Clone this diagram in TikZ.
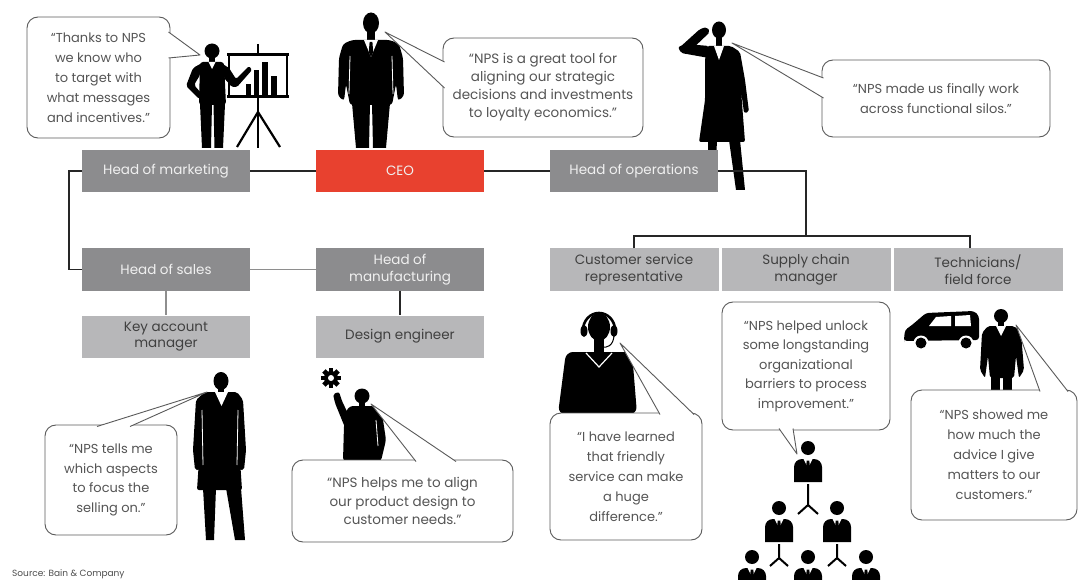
\documentclass[tikz,border=0pt]{standalone}
\usepackage{fontspec}
\setmainfont{Poppins}
\usetikzlibrary{calc}

\definecolor{boxdark}{HTML}{8C8C8E}
\definecolor{boxlight}{HTML}{B7B7B9}
\definecolor{ceored}{HTML}{E8412F}
\definecolor{inkgray}{HTML}{555555}
\definecolor{rulegray}{HTML}{5A5A5A}
\definecolor{linkgray}{HTML}{8E8E8E}

\tikzset{
  rolebox/.style={minimum width=168pt, minimum height=42pt, inner sep=0pt,
    align=center, font=\fontsize{13.5}{16.5}\selectfont},
  darkrole/.style={rolebox, fill=boxdark, text=white!94!black},
  lightrole/.style={rolebox, fill=boxlight, text=black!75},
  chiefrole/.style={rolebox, fill=ceored, text=white!94!black},
  link/.style={draw=black!85, line width=1.4pt},
  softlink/.style={draw=linkgray, line width=1.8pt},
  bubble/.style={draw=rulegray, line width=0.9pt, rounded corners=11pt,
    fill=white, align=center, text=inkgray, inner sep=0pt},
  tailline/.style={draw=rulegray, line width=0.9pt, line join=round},
  sil/.style={fill=black},
  orgperson/.pic={
    \fill (0,0) circle[radius=7pt];
    \fill (-14,34) -- (-14,19) to[out=90,in=180] (-6,11) -- (6,11)
          to[out=0,in=90] (14,19) -- (14,34) -- cycle;
    \fill[white] (-4.5,11) -- (4.5,11) -- (0,20) -- cycle;
    \fill (-1.3,12.5) -- (1.3,12.5) -- (1.9,19) -- (0,22) -- (-1.9,19) -- cycle;
  },
}

\begin{document}
\begin{tikzpicture}[x=1pt,y=-1pt]
\useasboundingbox (0,0) rectangle (1079,580);

% ---------- silhouettes ----------
% presenter next to an easel
\fill[sil] (212,51) circle[radius=7.5pt];
\fill[sil] (209,57) rectangle (215,64);
\fill[sil, rounded corners=3pt] (200,62) -- (224,62) -- (226,105) -- (199,105) -- cycle;
\fill[sil, rounded corners=2pt] (202,63) -- (193,68) -- (186,86) -- (199,99) -- (202,94) -- (194,85) -- (200,75) -- cycle;
\fill[sil, rounded corners=1.5pt] (221,63) -- (229,68) -- (236,79) -- (249,66) -- (252,70) -- (237,87) -- (232,87) -- (224,78) -- cycle;
\fill[white] (208.5,62) -- (215.5,62) -- (212,69) -- cycle;
\fill[sil] (200,104) -- (212,104) -- (211,148) -- (202,148) -- cycle;
\fill[sil] (213.5,104) -- (225,104) -- (223,148) -- (214.5,148) -- cycle;
\draw[line width=2pt] (258,44) -- (258,55);
\draw[line width=1.5pt] (229,55) rectangle (287,96);
\draw[line width=3pt] (227,54.5) -- (289,54.5);
\draw[line width=3pt] (227,96.5) -- (289,96.5);
\fill[sil] (246,84) rectangle (251,96);
\fill[sil] (254,70) rectangle (259,96);
\fill[sil] (262,62) rectangle (268,96);
\fill[sil] (271,76) rectangle (277,96);
\draw[line width=2.2pt] (258,97) -- (258,148);
\draw[line width=2.2pt] (258,112) -- (237,147);
\draw[line width=2.2pt] (258,112) -- (280,147);

% chief executive in a suit
\fill[sil] (371,23) ellipse[x radius=8pt, y radius=10.5pt];
\fill[sil] (367,30) rectangle (375,41);
\fill[sil, rounded corners=3pt] (352,40) -- (390,40) -- (399,44) -- (403,58) -- (404,96) -- (398,101) -- (396,84) -- (392,105) -- (350,105) -- (346,84) -- (344,101) -- (338,96) -- (339,58) -- (343,44) -- cycle;
\draw[white, line width=0.8pt] (350,56) -- (349,94);
\draw[white, line width=0.8pt] (392,56) -- (393,94);
\fill[white] (364,40) -- (378,40) -- (371,57) -- cycle;
\fill[sil] (369.6,42) -- (372.4,42) -- (373.2,52) -- (371,57) -- (368.8,52) -- cycle;
\fill[sil] (352,103) -- (370,103) -- (369,148) -- (356,148) -- cycle;
\fill[sil] (372,103) -- (390,103) -- (386,148) -- (373,148) -- cycle;

% woman on the phone
\fill[sil] (719,30) ellipse[x radius=7pt, y radius=8.5pt];
\fill[sil] (716,36) rectangle (722,47);
\fill[sil, rounded corners=2pt] (709,46) -- (686,44) -- (678,47) -- (681,53) -- (709,58) -- cycle;
\fill[sil, rounded corners=2pt] (679,48) -- (700,29) -- (707,27) -- (710,32) -- (688,53) -- cycle;
\fill[sil, rounded corners=2pt] (707,46) -- (731,46) -- (740,52) -- (745,80) -- (749,112) -- (744,113) -- (741,90) -- (745,142) -- (699,142) -- (705,100) -- (705,60) -- cycle;
\fill[white] (714,46) -- (724,46) -- (719,60) -- cycle;
\fill[sil] (708,140) -- (717,140) -- (715,185) -- (709,185) -- cycle;
\fill[sil] (729,140) -- (740,140) -- (745,190) -- (736,190) -- cycle;

% key account manager
\fill[sil] (221,381) ellipse[x radius=7.5pt, y radius=9pt];
\fill[sil] (218,387) rectangle (224,394);
\fill[sil, rounded corners=2pt] (205,392) -- (237,392) -- (243,400) -- (246,450) -- (244,470) -- (240,470) -- (239,445) -- (242,490) -- (197,490) -- (200,445) -- (199,470) -- (195,470) -- (193,450) -- (196,400) -- cycle;
\draw[white, line width=0.8pt] (202,410) -- (203,465);
\draw[white, line width=0.8pt] (238,410) -- (237,465);
\fill[white] (215,392) -- (228,392) -- (221.5,406) -- cycle;
\fill[sil] (203,488) -- (216,488) -- (214,540) -- (206,540) -- cycle;
\fill[sil] (226,488) -- (241,488) -- (245,540) -- (235,540) -- cycle;

% design engineer with a cog
\fill[sil] (331,378) circle[radius=7pt];
\foreach \a in {0,45,...,315}
  \fill[sil, shift={(331,378)}, rotate=\a] (-2.4pt,0pt) rectangle (2.4pt,10pt);
\fill[white] (331,378) circle[radius=3pt];
\fill[sil] (362,396) circle[radius=7.5pt];
\fill[sil] (359,402) rectangle (365,408);
\fill[sil, rounded corners=2pt] (346,430) -- (335,403) -- (333,394) -- (339,392) -- (342,401) -- (352,422) -- cycle;
\fill[sil, rounded corners=3pt] (350,406) -- (374,406) -- (382,413) -- (386,440) -- (381,461) -- (343,461) -- (344,425) -- (346,411) -- cycle;
\draw[white, line width=0.8pt] (376,420) -- (378,446);

% customer service agent with a headset
\fill[sil] (599,327) ellipse[x radius=11pt, y radius=14pt];
\draw[line width=2.6pt] (583,330) arc[start angle=180, end angle=0, x radius=16pt, y radius=17pt];
\fill[sil] (584,331) ellipse[x radius=3.5pt, y radius=6pt];
\fill[sil] (614,331) ellipse[x radius=3.5pt, y radius=6pt];
\draw[line width=1pt] (614,336) .. controls (613,346) and (607,348) .. (602,347);
\fill[sil] (594,339) rectangle (604,353);
\fill[sil, rounded corners=7pt] (566,352) -- (632,352) -- (637,414) -- (558,414) -- cycle;
\draw[white, line width=1.2pt] (586,353) -- (599,367) -- (612,353);

% organisation pyramid
\pic at (808,448) {orgperson};
\pic at (779,508) {orgperson};
\pic at (837,508) {orgperson};
\pic at (752,557) {orgperson};
\pic at (808,557) {orgperson};
\pic at (866,557) {orgperson};
\draw[line width=2pt] (808,484) -- (808,505) -- (798,514);
\draw[line width=2pt] (808,505) -- (818,514);
\draw[line width=2pt] (779,544) -- (779,558) -- (770,566);
\draw[line width=2pt] (779,558) -- (788,566);
\draw[line width=2pt] (837,544) -- (837,558) -- (828,566);
\draw[line width=2pt] (837,558) -- (846,566);

% technician and van
\fill[sil, rounded corners=3pt] (904,339) -- (905,330) -- (912,325) -- (926,313) -- (974,311) -- (979,316) -- (979,340) -- (904,341) -- cycle;
\fill[white] (929,326) -- (936,317) -- (951,316) -- (951,326) -- cycle;
\fill[white] (955,316) -- (970,315) -- (971,326) -- (955,326) -- cycle;
\fill[white] (921,343) circle[radius=7.5pt];
\fill[sil] (921,343) circle[radius=5.5pt];
\fill[white] (966,343) circle[radius=7.5pt];
\fill[sil] (966,343) circle[radius=5.5pt];
\fill[sil] (1001,316) circle[radius=7pt];
\fill[sil] (998,321) rectangle (1004,327);
\fill[sil, rounded corners=2pt] (988,326) -- (1014,326) -- (1021,333) -- (1024,370) -- (1019,378) -- (1016,356) -- (1014,378) -- (990,378) -- (988,356) -- (985,378) -- (980,370) -- (982,333) -- cycle;
\fill[white] (996,326) -- (1006,326) -- (1001,336) -- cycle;
\fill[sil] (991,376) rectangle (1000,391);
\fill[sil] (1003,376) rectangle (1012,391);

% ---------- reporting lines ----------
\coordinate (lft) at (69,171);
\coordinate (jn) at (806,236);
\coordinate (rt) at (970,236);

\node[darkrole]  (hm)  at (166,171)   {Head of marketing};
\node[chiefrole] (ceo) at (400,171)   {CEO};
\node[darkrole]  (ho)  at (634,171)   {Head of operations};
\node[darkrole]  (hs)  at (166,269.5) {Head of sales};
\node[darkrole]  (hmf) at (400,269.5) {Head of\\manufacturing};
\node[lightrole] (kam) at (166,336.5) {Key account\\manager};
\node[lightrole] (de)  at (400,336.5) {Design engineer};
\node[lightrole, minimum width=169pt] (csr) at (634,269.5) {Customer service\\representative};
\node[lightrole, minimum width=169pt] (scm) at (806,269.5) {Supply chain\\manager};
\node[lightrole, minimum width=169pt] (tec) at (978,269.5) {Technicians/\\field force};

\draw[link] (hm.east) -- (ceo.west);
\draw[link] (ceo.east) -- (ho.west);
\draw[link] (hm.west) -- (lft) |- (hs.west);
\draw[softlink] (hs.east) -- (hmf.west);
\draw[softlink] (hs.south) -- (kam.north);
\draw[link] (hmf.south) -- (de.north);
\draw[link] (ho.east) -| (jn);
\draw[link] (csr.north) |- (jn) -- (rt) -- (rt |- tec.north);

% ---------- quotes ----------
\node[bubble, minimum width=143pt, minimum height=121pt, font=\fontsize{13}{20}\selectfont] (q1) at (98.5,77.5)
  {“Thanks to NPS\\we know who\\to target with\\what messages\\and incentives.”};
\node[bubble, minimum width=200pt, minimum height=99pt, font=\fontsize{13.5}{18}\selectfont] (q2) at (543,87.5)
  {“NPS is a great tool for\\aligning our strategic\\decisions and investments\\to loyalty economics.”};
\node[bubble, minimum width=228pt, minimum height=77pt, font=\fontsize{13}{20}\selectfont] (q3) at (936,98.5)
  {“NPS made us finally work\\across functional silos.”};
\node[bubble, minimum width=132pt, minimum height=110pt, font=\fontsize{13}{19.5}\selectfont] (q4) at (111,480)
  {“NPS tells me\\which aspects\\to focus the\\selling on.”};
\node[bubble, minimum width=221pt, minimum height=82pt, font=\fontsize{13.5}{18.5}\selectfont] (q5) at (402.5,501)
  {“NPS helps me to align\\our product design to\\customer needs.”};
\node[bubble, minimum width=152pt, minimum height=127pt, font=\fontsize{13}{20}\selectfont] (q6) at (626,476.5)
  {“I have learned\\that friendly\\service can make\\a huge\\difference.”};
\node[bubble, minimum width=168pt, minimum height=128pt, font=\fontsize{13}{19.5}\selectfont] (q7) at (806,366)
  {“NPS helped unlock\\some longstanding\\organizational\\barriers to process\\improvement.”};
\node[bubble, minimum width=166pt, minimum height=130pt, font=\fontsize{13}{20}\selectfont] (q8) at (994,455)
  {“NPS showed me\\how much the\\advice I give\\matters to our\\customers.”};

% speech tails: two base points on the balloon edge and a tip at the speaker
\coordinate (t1a) at (168.5,32);  \coordinate (t1) at (200,55);  \coordinate (t1b) at (168.5,58);
\coordinate (t2a) at (444.5,62);  \coordinate (t2) at (385,32);  \coordinate (t2b) at (444.5,88);
\coordinate (t3a) at (823.5,78);  \coordinate (t3) at (732,43);  \coordinate (t3b) at (823.5,98);
\coordinate (t4a) at (97,426.5);  \coordinate (t4) at (207,392); \coordinate (t4b) at (130,426.5);
\coordinate (t5a) at (416,461.5); \coordinate (t5) at (371,404); \coordinate (t5b) at (456,461.5);
\coordinate (t6a) at (660,414.5); \coordinate (t6) at (620,343); \coordinate (t6b) at (694,414.5);
\coordinate (t7a) at (779,428.5); \coordinate (t7) at (797,454); \coordinate (t7b) at (793,428.5);
\coordinate (t8a) at (1040,391.5);\coordinate (t8) at (1016,325);\coordinate (t8b) at (1068,391.5);
\foreach \t in {t1,t2,t3,t4,t5,t6,t7,t8}{
  \fill[white] (\t a) -- (\t) -- (\t b) -- cycle;
  \draw[tailline] (\t a) -- (\t) -- (\t b);
}

\node[anchor=base west, inner sep=0pt, font=\fontsize{9}{11}\selectfont, text=black!70] (src) at (12,576) {Source: Bain \& Company};
\end{tikzpicture}
\end{document}
